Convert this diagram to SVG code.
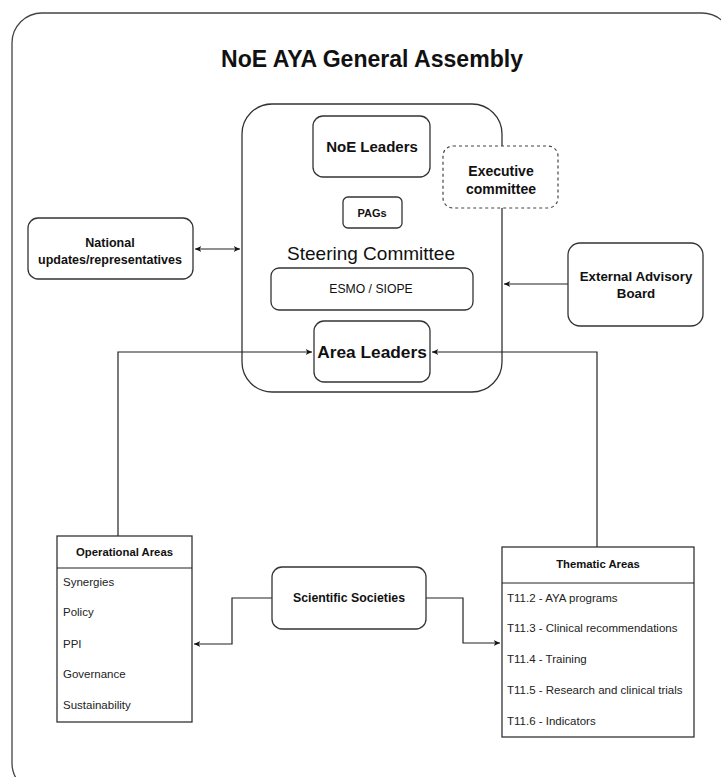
<svg xmlns="http://www.w3.org/2000/svg" width="721" height="777" viewBox="0 0 721 777">
<defs>
<style>
.box{fill:#fff;stroke:#333;stroke-width:1.3}
.frame{fill:#fff;stroke:#444;stroke-width:1.3}
.dash{fill:#fff;stroke:#444;stroke-width:1.2;stroke-dasharray:3 3}
.line{fill:none;stroke:#222;stroke-width:1.2}
text{font-family:"Liberation Sans",Arial,sans-serif;fill:#111}
.b{font-weight:bold}
.c{text-anchor:middle}
.item{font-size:11.5px;fill:#222}
</style>
<marker id="ah" viewBox="0 0 10 10" refX="9" refY="5" markerWidth="7" markerHeight="7" orient="auto-start-reverse" markerUnits="userSpaceOnUse">
<path d="M0,1 L9,5 L0,9 L2.5,5 Z" fill="#111"/>
</marker>
</defs>
<rect width="721" height="777" fill="#fff"/>
<g id="frame"><rect class="frame" x="12" y="13" width="720" height="780" rx="30"/></g>
<text class="b c" x="372" y="67" font-size="23" textLength="302" lengthAdjust="spacingAndGlyphs">NoE AYA General Assembly</text>

<g id="steering">
<rect class="box" x="242" y="104" width="260" height="288" rx="30"/>
<text class="c" x="371" y="260" font-size="19" fill="#222">Steering Committee</text>
</g>

<g id="connectors">
<path class="line" d="M118,536 V352 H312" marker-end="url(#ah)"/>
<path class="line" d="M597,547 V352 H432" marker-end="url(#ah)"/>
<path class="line" d="M195,249 H240" marker-start="url(#ah)" marker-end="url(#ah)"/>
<path class="line" d="M568,284 H504" marker-end="url(#ah)"/>
<path class="line" d="M272,598 H232 V644 H194" marker-end="url(#ah)"/>
<path class="line" d="M426,598 H463 V643 H500" marker-end="url(#ah)"/>
</g>

<g id="noe-leaders">
<rect class="box" x="313" y="116" width="117" height="61" rx="10"/>
<text class="b c" x="372" y="152" font-size="15">NoE Leaders</text>
</g>
<g id="executive">
<rect class="dash" x="443" y="146" width="115" height="62" rx="10"/>
<text class="b c" x="501" y="176" font-size="14">Executive</text>
<text class="b c" x="501" y="194" font-size="14">committee</text>
</g>
<g id="pags">
<rect class="box" x="343" y="197" width="59" height="31" rx="5"/>
<text class="b c" x="372" y="217" font-size="11">PAGs</text>
</g>
<g id="esmo">
<rect class="box" x="271" y="268" width="202" height="42" rx="8"/>
<text class="c" x="371" y="293" font-size="12.2" fill="#333">ESMO / SIOPE</text>
</g>
<g id="area-leaders">
<rect class="box" x="314" y="321" width="116" height="61" rx="10"/>
<text class="b c" x="372" y="358" font-size="17.3">Area Leaders</text>
</g>
<g id="national">
<rect class="box" x="28" y="218" width="165" height="61" rx="10"/>
<text class="b c" x="110" y="247" font-size="12.5">National</text>
<text class="b c" x="110" y="264" font-size="12.5">updates/representatives</text>
</g>
<g id="external">
<rect class="box" x="568" y="243" width="135" height="83" rx="12"/>
<text class="b c" x="636" y="281" font-size="13.3">External Advisory</text>
<text class="b c" x="636" y="298" font-size="13.3">Board</text>
</g>
<g id="operational">
<rect class="box" x="57" y="536" width="135" height="186"/>
<line class="line" x1="57" y1="568" x2="192" y2="568"/>
<text class="b c" x="124.5" y="556" font-size="11.3">Operational Areas</text>
<text class="item" x="63" y="586">Synergies</text>
<text class="item" x="63" y="616">Policy</text>
<text class="item" x="63" y="648">PPI</text>
<text class="item" x="63" y="678">Governance</text>
<text class="item" x="63" y="709">Sustainability</text>
</g>
<g id="thematic">
<rect class="box" x="502" y="547" width="192" height="190"/>
<line class="line" x1="502" y1="583" x2="694" y2="583"/>
<text class="b c" x="598" y="568" font-size="11.3">Thematic Areas</text>
<text class="item" x="507" y="602">T11.2 - AYA programs</text>
<text class="item" x="507" y="632">T11.3 - Clinical recommendations</text>
<text class="item" x="507" y="663">T11.4 - Training</text>
<text class="item" x="507" y="694">T11.5 - Research and clinical trials</text>
<text class="item" x="507" y="725">T11.6 - Indicators</text>
</g>
<g id="scientific">
<rect class="box" x="272" y="567" width="154" height="62" rx="10"/>
<text class="b c" x="349" y="602" font-size="12.3">Scientific Societies</text>
</g>
</svg>
